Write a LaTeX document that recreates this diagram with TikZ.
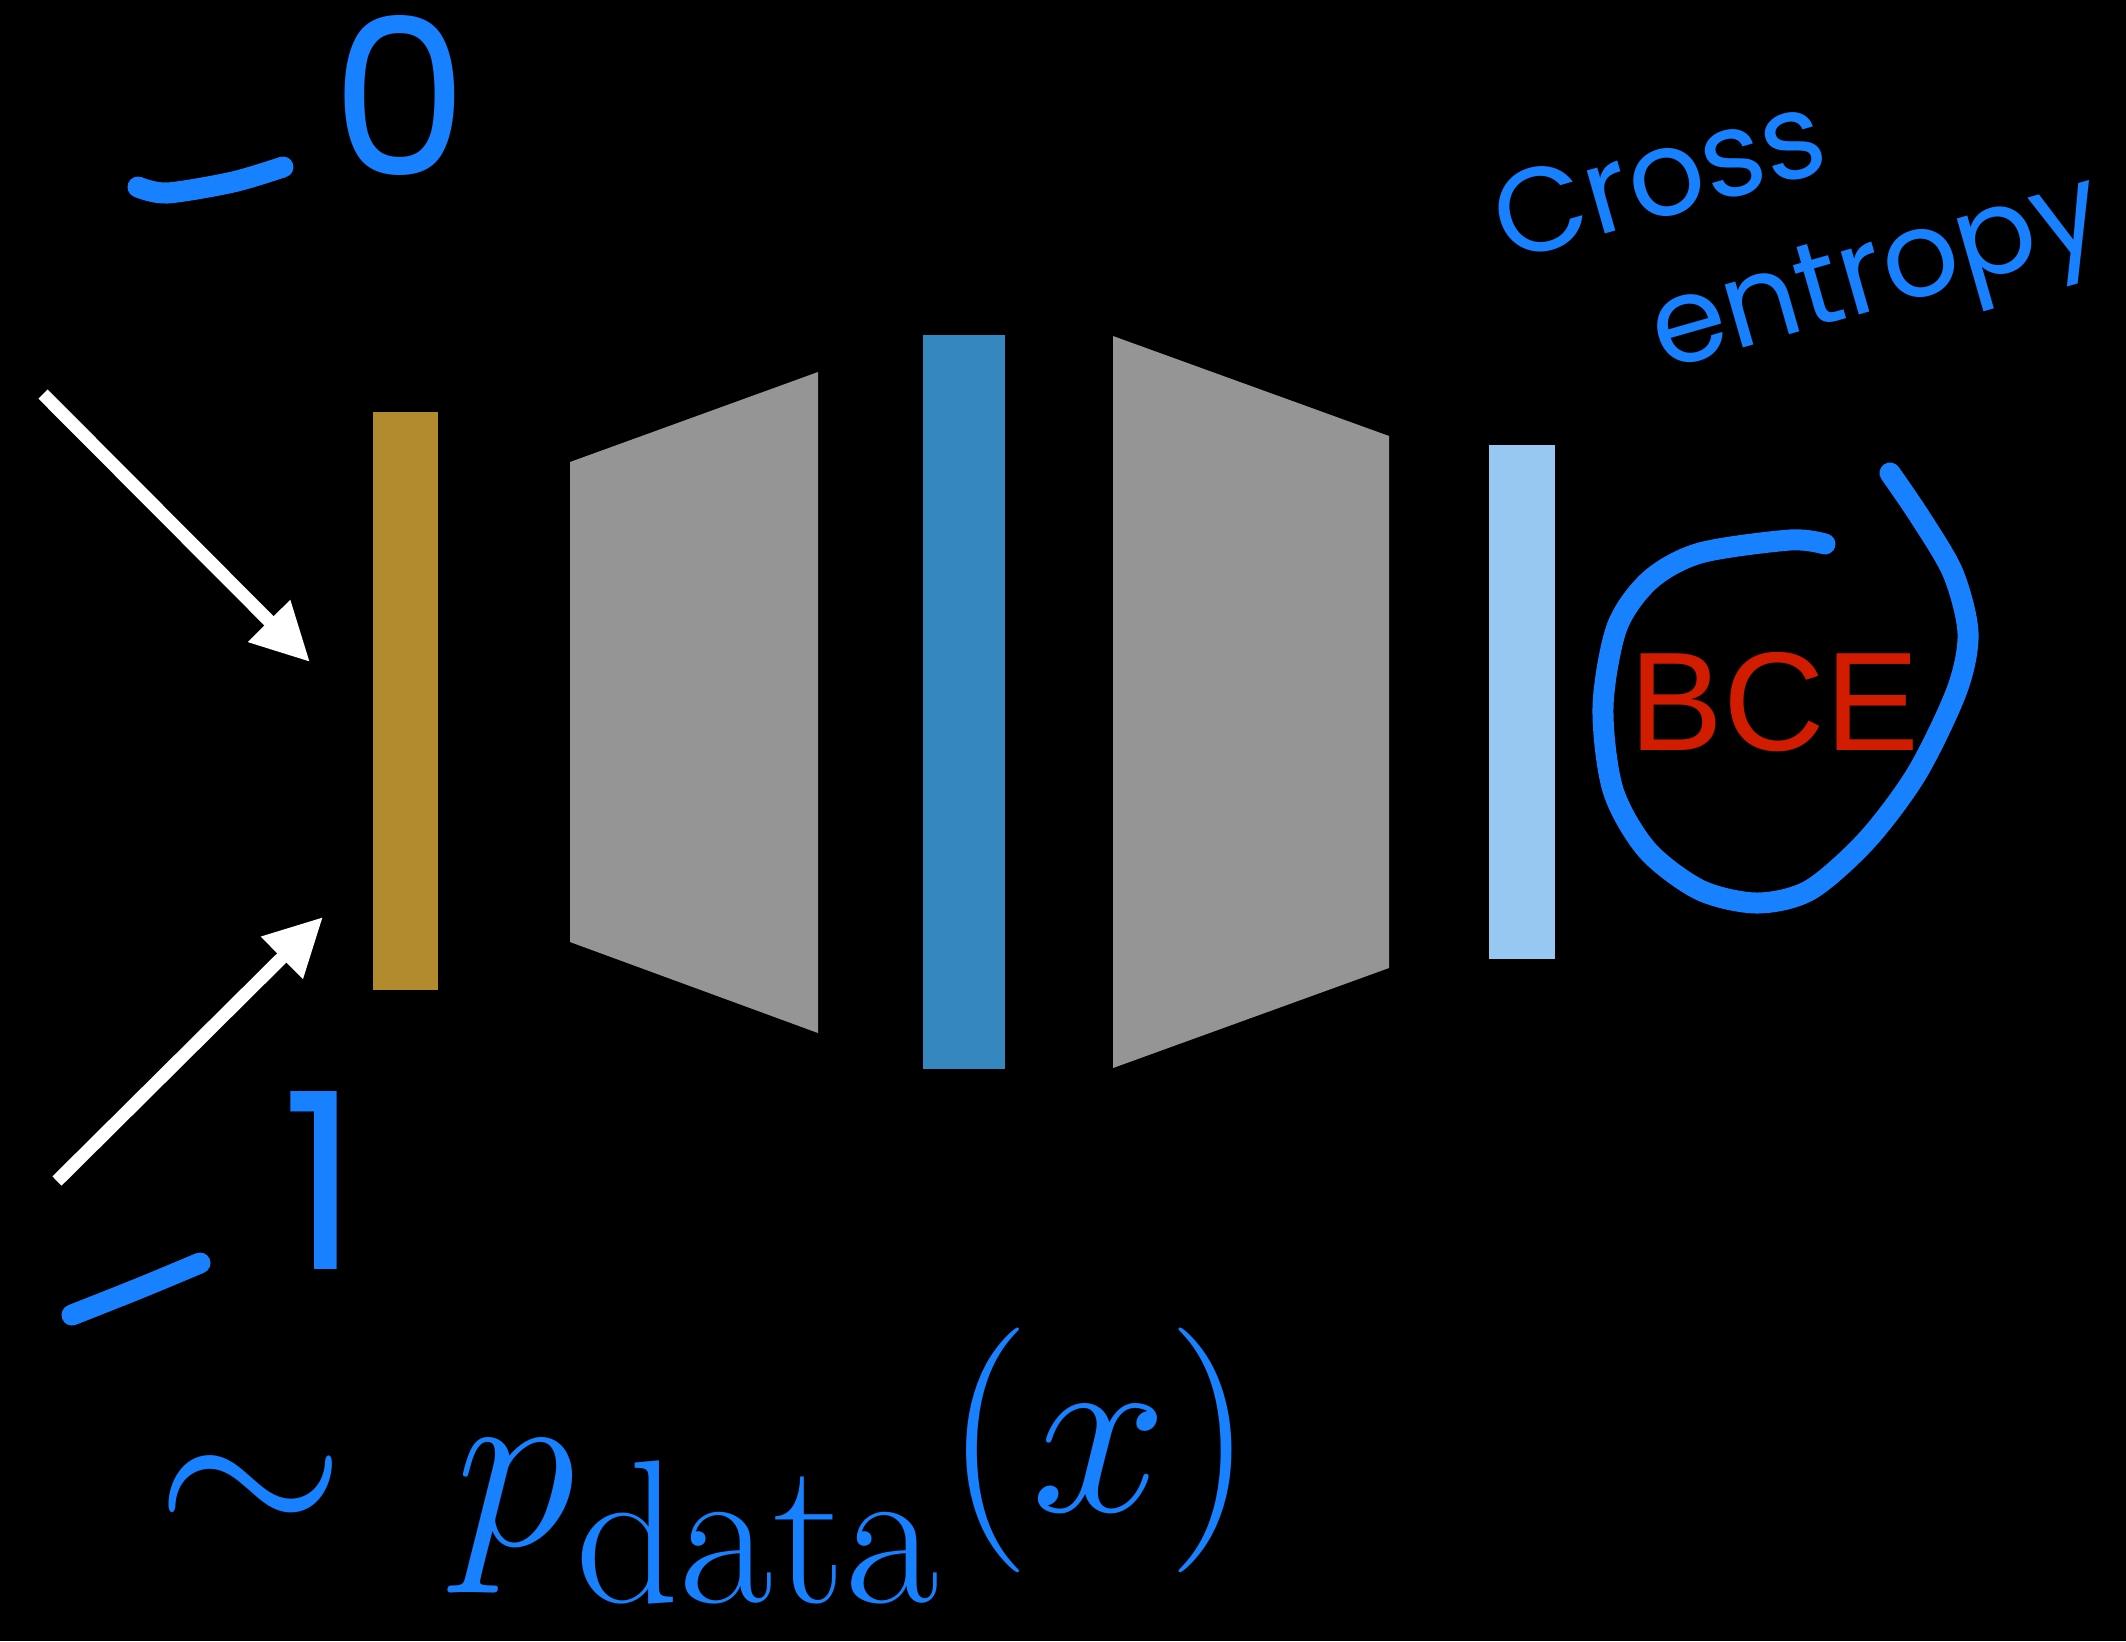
\documentclass[tikz,border=0pt]{standalone}
\usepackage{amsmath}
\usepackage{fontspec}
\newfontfamily\handfont{Poppins}
\newfontfamily\labelfont{Liberation Sans}
\usepackage{tikz}
\usetikzlibrary{arrows.meta, positioning}
\usepackage{xcolor}
\definecolor{encgold}{RGB}{178,139,46}
\definecolor{latentblue}{RGB}{52,136,191}
\definecolor{outblue}{RGB}{150,200,242}
\definecolor{layergray}{RGB}{149,149,149}
\definecolor{inkblue}{RGB}{24,129,255}
\definecolor{lossred}{RGB}{210,28,0}

\begin{document}
\begin{tikzpicture}[x=0.01cm, y=-0.01cm,
        bar/.style={rectangle, inner sep=0pt, outer sep=0pt, minimum width=0.65cm},
        funnel/.style={fill=layergray},
        feed/.style={-{Triangle[length=5.8mm, width=5.6mm]}, white, line width=1.3mm},
        ink/.style={inkblue, line width=2.1mm, line cap=round, line join=round},
        scribble/.style={text=inkblue, inner sep=0pt},
    ]
        % Fond
        \fill[black] (0,0) rectangle (2126,1641);
        \useasboundingbox (0,0) rectangle (2126,1641);

        % Couches
        \node[bar, fill=encgold, minimum height=5.78cm] (inbar) at (405.5,701) {};
        \fill[funnel] (570,462) -- (818,372) -- (818,1033) -- (570,942) -- cycle;
        \node[bar, fill=latentblue, minimum width=0.82cm, minimum height=7.34cm] (code) at (964,702) {};
        \fill[funnel] (1113,336) -- (1389,436) -- (1389,968) -- (1113,1068) -- cycle;
        \node[bar, fill=outblue, minimum width=0.66cm, minimum height=5.14cm] (outbar) at (1522,702) {};

        % Entrées
        \coordinate (srcA) at (43,394);
        \coordinate (tipA) at (310,662);
        \coordinate (srcB) at (57,1181);
        \coordinate (tipB) at (323,917);
        \draw[feed] (srcA) -- (tipA);
        \draw[feed] (srcB) -- (tipB);

        % Perte
        \node[inner sep=0pt, text=lossred, font=\labelfont\fontsize{40}{40}\selectfont,
              right=0.74cm of outbar] (bce) {BCE};
        \draw[ink] plot[smooth] coordinates {(1825,544) (1790,540) (1700,553) (1650,580)
            (1617,627) (1603,707) (1613,790) (1647,850) (1700,890) (1757,903) (1810,890)
            (1867,840) (1917,773) (1957,690) (1968,633) (1953,573) (1920,517) (1890,473)};
        \node[scribble, rotate=16, align=left, font=\handfont\fontsize{34}{42}\selectfont]
            (xent) at (1801,227) {Cross\\\hspace*{1.2cm}entropy};

        % Étiquettes
        \draw[ink] plot[smooth] coordinates {(138,187) (167,193) (233,182) (283,167)};
        \node[scribble, font=\handfont\fontsize{62}{62}\selectfont] (zero) at (400,95) {0};
        \draw[ink] plot[smooth] coordinates {(72,1315) (140,1288) (200,1263)};
        \node[scribble, font=\handfont\fontsize{70}{70}\selectfont] (one) at (321,1180) {1};

        % Distribution
        \node[scribble, anchor=base west, font=\Huge] (pdata) at (155,1545)
            {\scalebox{2.8}{$\sim\mkern3mu p_{\mathrm{data}}\raisebox{0.12cm}{$(x)$}$}};
    \end{tikzpicture}
\end{document}
